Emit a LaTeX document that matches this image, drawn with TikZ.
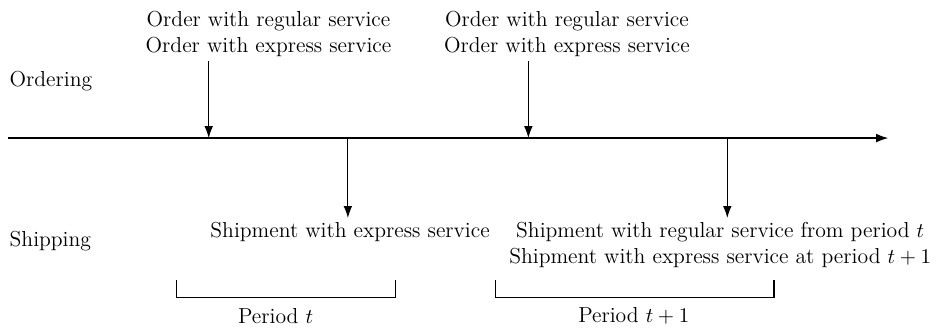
\documentclass[tikz,border=0pt]{standalone}
\usetikzlibrary{arrows.meta}

\begin{document}
\begin{tikzpicture}[semithick, >={Latex[length=2.2mm,width=1.6mm]}, font=\fontsize{11.35}{13.4}\selectfont, txt/.style={align=center, inner sep=2pt}]
	\useasboundingbox (0,0) rectangle (17.33,6.07);
	% time axis
	\coordinate (start) at (0.15,3.53);
	\coordinate (stop) at (16.34,3.53);
	\draw[->] (start) -- (stop);
	\coordinate (o1) at (3.84,3.53);
	\coordinate (o2) at (9.72,3.53);
	\coordinate (s1) at (6.40,3.53);
	\coordinate (s2) at (13.38,3.53);
	% row labels
	\node[anchor=west] (ordering) at (0.05,4.58) {Ordering};
	\node[anchor=west] (shipping) at (0.05,1.63) {Shipping};
	% orders
	\node[txt] (order1) at (4.94,5.44) {Order with regular service\\ Order with express service};
	\node[txt] (order2) at (10.43,5.44) {Order with regular service\\ Order with express service};
	\draw[->] (o1 |- order1.south) -- (o1);
	\draw[->] (o2 |- order2.south) -- (o2);
	% shipments
	\node[txt, anchor=north] (ship1) at (6.44,2.06) {Shipment with express service};
	\node[txt, anchor=north] (ship2) at (13.25,2.06) {Shipment with regular service from period $t$\\ Shipment with express service at period $t+1$};
	\draw[->] (s1) -- (s1 |- ship1.north);
	\draw[->] (s2) -- (s2 |- ship2.north);
	% periods
	\draw (3.24,0.92) -- (3.24,0.59) -- (7.27,0.59) -- (7.27,0.92);
	\node (period1) at (5.07,0.26) {Period $t$};
	\draw (9.11,0.92) -- (9.11,0.59) -- (14.24,0.59) -- (14.24,0.92);
	\node (period2) at (11.66,0.26) {Period $t+1$};
\end{tikzpicture}
\end{document}
